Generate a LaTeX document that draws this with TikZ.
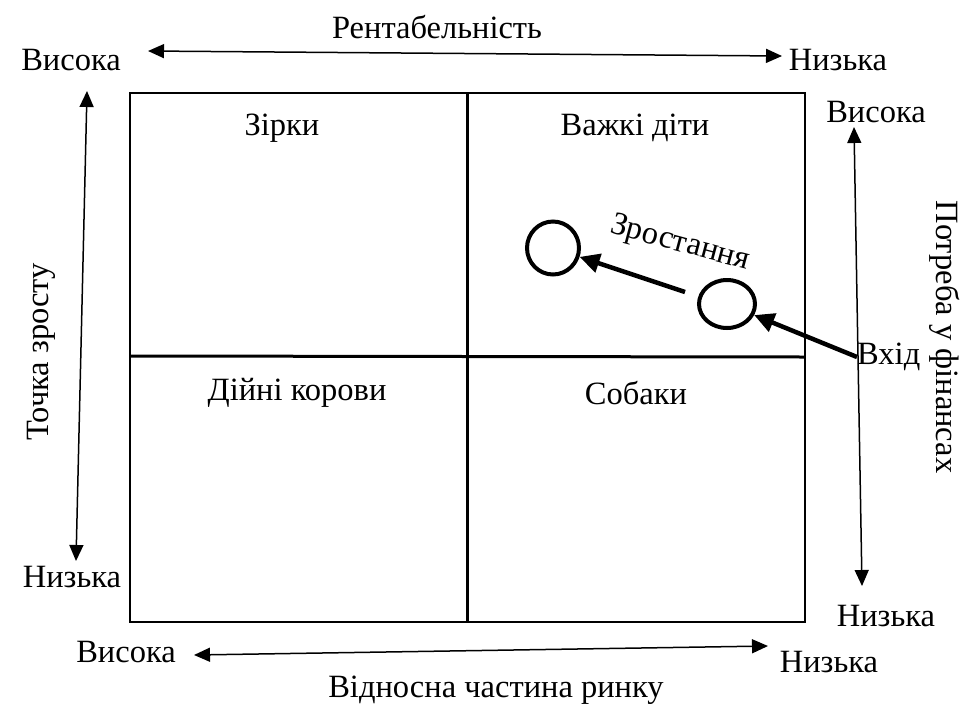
\documentclass[tikz,border=0pt]{standalone}
\usepackage{fontspec}
\setmainfont{LiberationSerif}[Extension=.ttf, UprightFont=*-Regular, Script=Cyrillic]
\usetikzlibrary{arrows.meta,shapes.geometric}
\begin{document}
\begin{tikzpicture}[x=1pt,y=-1pt,
  lbl/.style={font=\fontsize{32.5}{36}\selectfont, inner sep=0pt},
  axis/.style={line width=1.5pt, {Triangle[length=16pt,width=14pt]}-{Triangle[length=16pt,width=14pt]}},
  frame/.style={line width=2pt},
  divider/.style={line width=3pt},
  blob/.style={draw, ellipse, line width=4pt, inner sep=0pt},
  move/.style={line width=4.5pt, -{Triangle[length=20pt,width=19pt]}}]
\useasboundingbox (0,0) rectangle (971,710);

% matrix frame and dividers
\draw[frame] (130,93) rectangle (805,622);
\draw[divider] (467,93) -- (467,622);
\draw[divider] (130,356) -- (805,357);

% quadrant titles
\node[lbl] (stars) at (282,128) {Зірки};
\node[lbl] (qmarks) at (635,128) {Важкі діти};
\node[lbl] (cows) at (297,393) {Дійні корови};
\node[lbl] (dogs) at (636,393) {Собаки};

% top axis
\node[lbl] (ttl) at (437,27) {Рентабельність};
\node[lbl] (thi) at (71,60) {Висока};
\node[lbl] (tlo) at (838,60) {Низька};
\coordinate (ta) at (148,51);
\coordinate (tb) at (782,56);
\draw[axis] (ta) -- (tb);

% left axis
\node[lbl, rotate=90] (lttl) at (41,352) {Точка зросту};
\node[lbl] (llo) at (72,577) {Низька};
\coordinate (la) at (87,91);
\coordinate (lb) at (76,561);
\draw[axis] (la) -- (lb);

% bottom axis
\node[lbl] (bttl) at (496,690) {Відносна частина ринку};
\node[lbl] (bhi) at (126,652) {Висока};
\node[lbl] (blo) at (829,662) {Низька};
\coordinate (ba) at (194,655);
\coordinate (bb) at (768,646);
\draw[axis] (ba) -- (bb);

% right axis
\node[lbl, rotate=-90] (rttl) at (945,337) {Потреба у фінансах};
\node[lbl] (rhi) at (876,112) {Висока};
\node[lbl] (rlo) at (886,616) {Низька};
\coordinate (ra) at (854,127);
\coordinate (rb) at (862,586);
\draw[axis] (ra) -- (rb);

% product path
\node[blob, minimum width=52pt, minimum height=53pt] (c1) at (553,248) {};
\node[blob, minimum width=56pt, minimum height=48pt] (c2) at (727,304) {};
\node[lbl, rotate=-15] (grow) at (680,244) {Зростання};
\node[lbl, anchor=west] (entry) at (857,357) {Вхід};
\coordinate (g0) at (685,292);
\draw[move] (g0) -- (c1);
\draw[move] (entry.west) -- (c2);
\end{tikzpicture}
\end{document}
